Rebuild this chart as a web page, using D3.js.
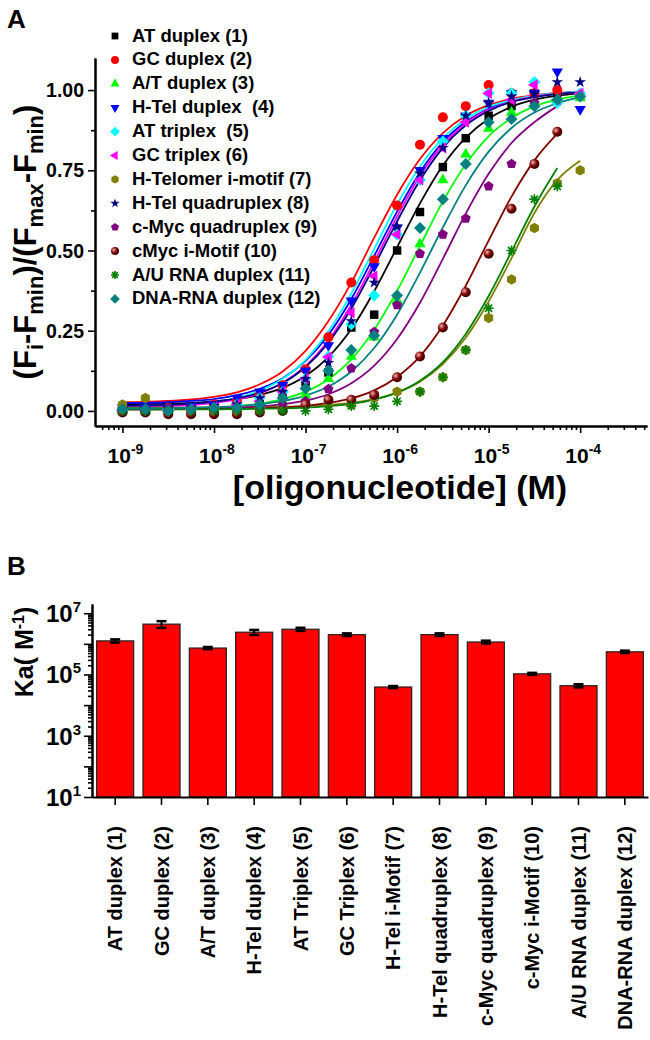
<!DOCTYPE html>
<html>
<head>
<meta charset="utf-8">
<script src="https://cdn.jsdelivr.net/npm/d3@7"></script>
<style>
  body { margin: 0; background: #fff; }
  text { font-family: Arial, "Liberation Sans", sans-serif; font-weight: bold; fill: #000; }
</style>
</head>
<body>
<svg id="chart" width="650" height="1040"></svg>
<script>
// ---------- panel A : titration curves ----------
// log10 of the oligonucleotide concentration (M) at which points were taken
var logConc = [-9, -8.75, -8.5, -8.25, -8, -7.75, -7.5, -7.25, -7, -6.75, -6.5,
               -6.25, -6, -5.75, -5.5, -5.25, -5, -4.75, -4.5, -4.25, -4];

var seriesNames = ["AT duplex (1)", "GC duplex (2)", "A/T duplex (3)", "H-Tel duplex  (4)",
                   "AT triplex  (5)", "GC triplex (6)", "H-Telomer i-motif (7)", "H-Tel quadruplex (8)",
                   "c-Myc quadruplex (9)", "cMyc i-Motif (10)", "A/U RNA duplex (11)", "DNA-RNA duplex (12)"];
var seriesColors = ["#000000", "#ff0000", "#00ff00", "#0000ff", "#00ffff", "#ff00ff",
                    "#808000", "#000080", "#800080", "#800000", "#008000", "#008080"];
var seriesShapes = ["square", "circle", "triUp", "triDown", "diamond", "triLeft",
                    "hexagon", "star", "pentagon", "sphere", "asterisk", "diamond"];

// measured points, (Fi-Fmin)/(Fmax-Fmin)
var ptsATduplex   = [0.01, 0.0, 0.005, 0.01, 0.01, 0.02, 0.03, 0.05, 0.09, 0.12, 0.26, 0.30, 0.50, 0.62, 0.76, 0.85, 0.92, 0.95, 0.99, 0.99, 0.98];
var ptsGCduplex   = [0.0, 0.005, 0.01, 0.01, 0.02, 0.03, 0.05, 0.08, 0.13, 0.23, 0.40, 0.47, 0.64, 0.83, 0.915, 0.95, 1.016, 0.99, 0.99, 1.0, 0.985];
var ptsATduplex3  = [0.0, 0.0, 0.005, 0.0, 0.01, 0.01, 0.02, 0.03, 0.05, 0.10, 0.17, 0.23, 0.345, 0.52, 0.72, 0.80, 0.88, 0.93, 0.96, 0.97, 0.975];
var ptsHTelDuplex = [0.01, 0.01, 0.01, 0.015, 0.02, 0.04, 0.06, 0.08, 0.125, 0.204, 0.343, 0.45, 0.57, 0.75, 0.85, 0.92, 0.96, 0.99, 0.99, 1.057, 0.94];
var ptsATtriplex  = [0.0, 0.0, 0.005, 0.005, 0.01, 0.02, 0.04, 0.06, 0.10, 0.17, 0.27, 0.36, 0.55, 0.72, 0.84, 0.92, 0.99, 0.99, 1.025, 0.96, 0.99];
var ptsGCtriplex  = [0.0, 0.0, 0.0, 0.005, 0.01, 0.02, 0.03, 0.06, 0.10, 0.168, 0.306, 0.42, 0.55, 0.72, 0.82, 0.90, 0.99, 0.97, 1.016, 0.97, 0.99];
var ptsHTelIMotif = [0.02, 0.04, 0.005, 0.0, 0.0, 0.005, 0.01, 0.015, 0.02, 0.02, 0.02, 0.04, 0.06, 0.06, 0.105, 0.19, 0.29, 0.41, 0.57, 0.71, 0.75];
var ptsHTelQuad   = [0.005, 0.005, 0.01, 0.01, 0.015, 0.02, 0.04, 0.06, 0.10, 0.15, 0.28, 0.40, 0.575, 0.74, 0.82, 0.92, 0.96, 0.98, 0.99, 1.025, 1.025];
var ptsMycQuad    = [0.0, 0.0, 0.005, 0.0, 0.005, 0.01, 0.01, 0.02, 0.03, 0.068, 0.133, 0.246, 0.33, 0.49, 0.55, 0.60, 0.70, 0.77, 0.96, null, null];
var ptsMycIMotif  = [-0.005, -0.005, -0.01, -0.01, -0.01, -0.01, -0.005, 0.0, 0.02, 0.035, 0.035, 0.05, 0.105, 0.17, 0.26, 0.37, 0.49, 0.63, 0.77, 0.87, null];
var ptsAURna      = [0.0, 0.0, 0.0, 0.0, 0.0, 0.0, 0.0, 0.0, 0.0, 0.005, 0.015, 0.015, 0.03, 0.06, 0.105, 0.19, 0.32, 0.50, 0.66, 0.70, null];
var ptsDnaRna     = [0.005, 0.005, 0.0, 0.005, 0.01, 0.01, 0.02, 0.04, 0.07, 0.125, 0.19, 0.235, 0.36, 0.57, 0.66, 0.77, 0.90, 0.91, 0.95, 0.97, 0.98];

// fitted curves, read at the same concentrations
var fitATduplex   = [0.021, 0.022, 0.023, 0.025, 0.030, 0.037, 0.050, 0.072, 0.109, 0.168, 0.255, 0.373, 0.51, 0.647, 0.765, 0.852, 0.911, 0.948, 0.97, 0.983, 0.99];
var fitGCduplex   = [0.027, 0.028, 0.031, 0.036, 0.044, 0.058, 0.083, 0.123, 0.187, 0.28, 0.40, 0.54, 0.674, 0.785, 0.866, 0.92, 0.953, 0.973, 0.984, 0.991, 0.995];
var fitATduplex3  = [0.006, 0.006, 0.007, 0.008, 0.011, 0.015, 0.023, 0.037, 0.06, 0.099, 0.161, 0.253, 0.374, 0.514, 0.653, 0.769, 0.856, 0.913, 0.949, 0.971, 0.983];
var fitHTelDuplex = [0.024, 0.025, 0.027, 0.031, 0.037, 0.049, 0.069, 0.102, 0.156, 0.237, 0.349, 0.483, 0.621, 0.744, 0.838, 0.901, 0.942, 0.967, 0.981, 0.989, 0.994];
var fitATtriplex  = [0.012, 0.013, 0.016, 0.02, 0.027, 0.04, 0.063, 0.1, 0.159, 0.248, 0.366, 0.505, 0.644, 0.762, 0.85, 0.91, 0.948, 0.969, 0.983, 0.99, 0.994];
var fitGCtriplex  = [0.012, 0.013, 0.015, 0.018, 0.025, 0.036, 0.055, 0.088, 0.14, 0.22, 0.331, 0.465, 0.606, 0.732, 0.829, 0.896, 0.939, 0.964, 0.98, 0.988, 0.993];
var fitHTelIMotif = [0.01, 0.01, 0.01, 0.01, 0.011, 0.011, 0.012, 0.013, 0.015, 0.019, 0.025, 0.037, 0.057, 0.091, 0.146, 0.228, 0.341, 0.476, 0.617, 0.72, 0.78];
var fitHTelQuad   = [0.016, 0.017, 0.019, 0.023, 0.029, 0.039, 0.057, 0.087, 0.137, 0.213, 0.319, 0.451, 0.591, 0.719, 0.82, 0.89, 0.935, 0.963, 0.978, 0.988, 0.993];
var fitMycQuad    = [0.005, 0.005, 0.006, 0.007, 0.008, 0.01, 0.014, 0.021, 0.032, 0.052, 0.086, 0.141, 0.224, 0.337, 0.474, 0.615, 0.739, 0.835, 0.9, 0.95, null];
var fitMycIMotif  = [0.005, 0.005, 0.005, 0.006, 0.006, 0.007, 0.008, 0.011, 0.016, 0.025, 0.039, 0.064, 0.106, 0.17, 0.266, 0.39, 0.531, 0.668, 0.781, 0.864, null];
var fitAURna      = [0.005, 0.005, 0.005, 0.005, 0.005, 0.006, 0.007, 0.008, 0.01, 0.015, 0.022, 0.035, 0.057, 0.094, 0.152, 0.24, 0.358, 0.497, 0.637, 0.757, null];
var fitDnaRna     = [0.008, 0.009, 0.009, 0.01, 0.012, 0.015, 0.021, 0.031, 0.048, 0.076, 0.123, 0.196, 0.3, 0.431, 0.572, 0.703, 0.808, 0.882, 0.93, 0.959, 0.977];

var seriesPoints = [ptsATduplex, ptsGCduplex, ptsATduplex3, ptsHTelDuplex, ptsATtriplex, ptsGCtriplex,
                    ptsHTelIMotif, ptsHTelQuad, ptsMycQuad, ptsMycIMotif, ptsAURna, ptsDnaRna];
var seriesFits = [fitATduplex, fitGCduplex, fitATduplex3, fitHTelDuplex, fitATtriplex, fitGCtriplex,
                  fitHTelIMotif, fitHTelQuad, fitMycQuad, fitMycIMotif, fitAURna, fitDnaRna];

var xTicksA = [1e-9, 1e-8, 1e-7, 1e-6, 1e-5, 1e-4];
var yTicksA = [0, 0.25, 0.5, 0.75, 1];
var yMinorA = [0.125, 0.375, 0.625, 0.875];

// ---------- panel B : association constants ----------
var barNames = ["AT duplex (1)", "GC duplex (2)", "A/T duplex (3)", "H-Tel duplex (4)", "AT Triplex (5)",
                "GC Triplex (6)", "H-Tel i-Motif (7)", "H-Tel quadruplex (8)", "c-Myc quadruplex (9)",
                "c-Myc i-Motif (10)", "A/U RNA duplex (11)", "DNA-RNA duplex (12)"];
var kaValues = [1.25e6, 4.4e6, 7.3e5, 2.4e6, 3.0e6, 2.0e6, 3.9e4, 2.0e6, 1.15e6, 1.05e5, 4.3e4, 5.5e5];
var kaErrors = [0.15e6, 1.1e6, 0.06e6, 0.45e6, 0.35e6, 0.2e6, 0.3e4, 0.2e6, 0.12e6, 0.08e5, 0.5e4, 0.5e5];
var yTicksB = [1e1, 1e3, 1e5, 1e7];

var svg = d3.select("#chart");

var defs = svg.append("defs");
var grad = defs.append("radialGradient").attr("id", "sphere").attr("cx", "35%").attr("cy", "35%").attr("r", "65%");
grad.append("stop").attr("offset", "0%").attr("stop-color", "#f0b0b0");
grad.append("stop").attr("offset", "55%").attr("stop-color", "#800000");
grad.append("stop").attr("offset", "100%").attr("stop-color", "#3a0000");

function markerPath(shape, r) {
  if (shape == "circle" || shape == "sphere") return d3.symbol(d3.symbolCircle, Math.PI * r * r)();
  if (shape == "star") return d3.symbol(d3.symbolStar, r * r * 1.7)();
  if (shape == "asterisk") {
    var p = "";
    for (var i = 0; i < 4; i++) {
      var a = i * Math.PI / 4;
      p += "M" + (-r * Math.cos(a)) + "," + (-r * Math.sin(a)) + "L" + (r * Math.cos(a)) + "," + (r * Math.sin(a));
    }
    return p;
  }
  var sides = {square: 4, diamond: 4, triUp: 3, triDown: 3, triLeft: 3, hexagon: 6, pentagon: 5}[shape];
  var turn = {square: 45, diamond: 0, triUp: 0, triDown: 180, triLeft: -90, hexagon: 0, pentagon: 0}[shape];
  var rr = sides == 3 ? r * 1.3 : (sides == 4 ? r * 1.2 : r * 1.05);
  var pts = d3.range(sides).map(function(i) {
    var a = (turn + i * 360 / sides) * Math.PI / 180;
    return [rr * Math.sin(a), -rr * Math.cos(a)];
  });
  return "M" + pts.join("L") + "Z";
}

function drawMarker(g, shape, color, x, y, r) {
  var m = g.append("path").attr("d", markerPath(shape, r)).attr("transform", "translate(" + x + "," + y + ")");
  if (shape == "asterisk") m.attr("fill", "none").attr("stroke", color).attr("stroke-width", 1.7);
  else if (shape == "sphere") m.attr("fill", "url(#sphere)");
  else m.attr("fill", color);
}

function styleAxis(g) {
  g.select(".domain").attr("stroke", "#000").attr("stroke-width", 2);
  g.selectAll(".tick line").attr("stroke", "#000").attr("stroke-width", 1.6);
  g.selectAll(".tick text").remove();
}

// ===== panel A =====
var xA = d3.scaleLog().domain([Math.pow(10, -9.3), Math.pow(10, -3.27)]).range([95, 647]);
var yA = d3.scaleLinear().domain([-0.047, 1.1]).range([426, 58]);

var xMinorA = [];
for (var e = -10; e <= -4; e++) {
  for (var m = 2; m <= 9; m++) {
    var v = m * Math.pow(10, e);
    if (v > xA.domain()[0] && v < xA.domain()[1]) xMinorA.push(v);
  }
}

svg.append("g").attr("transform", "translate(0,426)")
   .call(d3.axisBottom(xA).tickValues(xMinorA).tickSize(4).tickSizeOuter(0)).call(styleAxis);
svg.append("g").attr("transform", "translate(0,426)")
   .call(d3.axisBottom(xA).tickValues(xTicksA).tickSize(7).tickSizeOuter(0)).call(styleAxis);
svg.append("g").attr("transform", "translate(95,0)")
   .call(d3.axisLeft(yA).tickValues(yMinorA).tickSize(4).tickSizeOuter(0)).call(styleAxis);
svg.append("g").attr("transform", "translate(95,0)")
   .call(d3.axisLeft(yA).tickValues(yTicksA).tickSize(7).tickSizeOuter(0)).call(styleAxis);

yTicksA.forEach(function(d) {
  svg.append("text").attr("x", 84).attr("y", yA(d) + 7).attr("text-anchor", "end")
     .style("font-size", "19.5px").text(d3.format(".2f")(d));
});
xTicksA.forEach(function(d) {
  var t = svg.append("text").attr("x", xA(d) + 3).attr("y", 463).attr("text-anchor", "middle").style("font-size", "21px");
  t.append("tspan").text("10");
  t.append("tspan").attr("dy", -9).style("font-size", "14px").text(Math.round(Math.log10(d)));
});

svg.append("text").attr("x", 400).attr("y", 499).attr("text-anchor", "middle")
   .style("font-size", "34px").text("[oligonucleotide] (M)");

var yTitle = svg.append("text").attr("text-anchor", "middle")
   .attr("transform", "translate(36,242) rotate(-90)").style("font-size", "31px");
yTitle.append("tspan").text("(F");
yTitle.append("tspan").attr("dy", 7).style("font-size", "22px").text("i");
yTitle.append("tspan").attr("dy", -7).text("-F");
yTitle.append("tspan").attr("dy", 7).style("font-size", "22px").text("min");
yTitle.append("tspan").attr("dy", -7).text(")/(F");
yTitle.append("tspan").attr("dy", 7).style("font-size", "22px").text("max");
yTitle.append("tspan").attr("dy", -7).text("-F");
yTitle.append("tspan").attr("dy", 7).style("font-size", "22px").text("min");
yTitle.append("tspan").attr("dy", -7).text(")");

svg.append("text").attr("x", 7).attr("y", 28).style("font-size", "26px").text("A");

var fitLine = d3.line()
  .defined(function(d) { return d[1] != null; })
  .x(function(d) { return xA(Math.pow(10, d[0])); })
  .y(function(d) { return yA(d[1]); })
  .curve(d3.curveMonotoneX);

var curves = svg.append("g");
seriesFits.forEach(function(fit, i) {
  curves.append("path")
    .attr("d", fitLine(logConc.map(function(c, k) { return [c, fit[k]]; })))
    .attr("fill", "none").attr("stroke", seriesColors[i]).attr("stroke-width", 1.8);
});

var marks = svg.append("g");
seriesPoints.forEach(function(pts, i) {
  pts.forEach(function(v, k) {
    if (v == null) return;
    drawMarker(marks, seriesShapes[i], seriesColors[i], xA(Math.pow(10, logConc[k])), yA(v), 5);
  });
});

var legend = svg.append("g");
seriesNames.forEach(function(name, i) {
  var cy = 35 + i * 23.9;
  drawMarker(legend, seriesShapes[i], seriesColors[i], 115, cy + 1, 4);
  legend.append("text").attr("x", 132).attr("y", cy + 6.5).attr("xml:space", "preserve")
        .style("white-space", "pre").style("font-size", "18.5px").text(name);
});

// ===== panel B =====
var xB = d3.scaleBand().domain(barNames).range([92, 648]).paddingInner(0.2).paddingOuter(0.1);
var yB = d3.scaleLog().domain([10, 2e7]).range([797, 604]);

var yMajorB = [], yMinorB = [];
for (var e2 = 1; e2 <= 7; e2++) {
  yMajorB.push(Math.pow(10, e2));
  for (var m2 = 2; m2 <= 9; m2++) {
    var v2 = m2 * Math.pow(10, e2);
    if (v2 < yB.domain()[1]) yMinorB.push(v2);
  }
}

svg.selectAll(".bar").data(barNames).enter().append("rect")
   .attr("x", function(d) { return xB(d); })
   .attr("y", function(d, i) { return yB(kaValues[i]); })
   .attr("width", xB.bandwidth())
   .attr("height", function(d, i) { return 797 - yB(kaValues[i]); })
   .attr("fill", "#ff0000").attr("stroke", "#222").attr("stroke-width", 1.2);

var errs = svg.append("g").attr("stroke", "#000");
barNames.forEach(function(d, i) {
  var cx = xB(d) + xB.bandwidth() / 2;
  var top = yB(kaValues[i] + kaErrors[i]), bot = yB(kaValues[i] - kaErrors[i]);
  errs.append("line").attr("x1", cx).attr("x2", cx).attr("y1", top).attr("y2", bot).attr("stroke-width", 2);
  errs.append("line").attr("x1", cx - 5).attr("x2", cx + 5).attr("y1", top).attr("y2", top).attr("stroke-width", 2.5);
  errs.append("line").attr("x1", cx - 5).attr("x2", cx + 5).attr("y1", bot).attr("y2", bot).attr("stroke-width", 2.5);
});

svg.append("g").attr("transform", "translate(92,0)")
   .call(d3.axisLeft(yB).tickValues(yMinorB).tickSize(4).tickSizeOuter(0)).call(styleAxis);
svg.append("g").attr("transform", "translate(92,0)")
   .call(d3.axisLeft(yB).tickValues(yMajorB).tickSize(8).tickSizeOuter(0)).call(styleAxis);
svg.append("g").attr("transform", "translate(0,797)")
   .call(d3.axisBottom(xB).tickSize(8).tickSizeOuter(0)).call(styleAxis);

yTicksB.forEach(function(d) {
  var t = svg.append("text").attr("x", 81).attr("y", yB(d) + 9).attr("text-anchor", "end").style("font-size", "24px");
  t.append("tspan").text("10");
  t.append("tspan").attr("dy", -10).style("font-size", "15px").text(Math.round(Math.log10(d)));
});

barNames.forEach(function(d) {
  var cx = xB(d) + xB.bandwidth() / 2;
  svg.append("text").attr("text-anchor", "end")
     .attr("transform", "translate(" + (cx + 7) + ",826) rotate(-90)")
     .style("font-size", "20px").text(d);
});

var kaTitle = svg.append("text").attr("text-anchor", "middle")
   .attr("transform", "translate(33,652) rotate(-90)").style("font-size", "25px");
kaTitle.append("tspan").text("Ka( M");
kaTitle.append("tspan").attr("dy", -9).style("font-size", "16px").text("-1");
kaTitle.append("tspan").attr("dy", 9).text(")");

svg.append("text").attr("x", 7).attr("y", 575).style("font-size", "26px").text("B");
</script>
</body>
</html>
